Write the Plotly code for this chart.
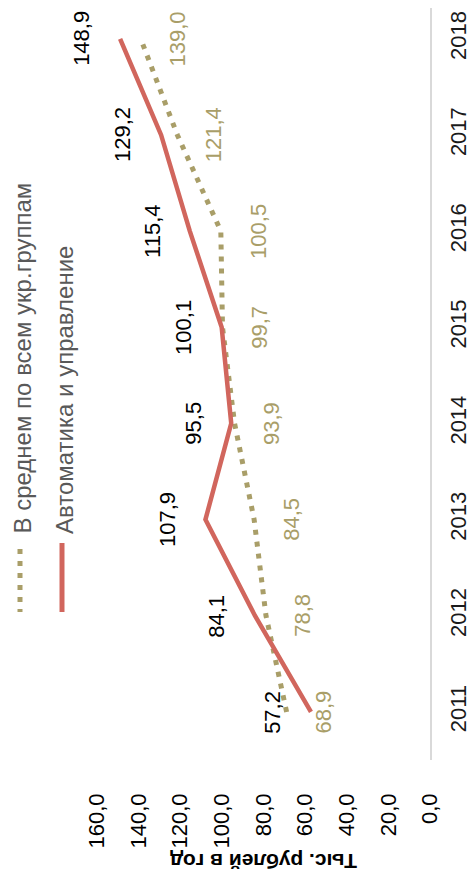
import plotly.graph_objects as go

years = [2011, 2012, 2013, 2014, 2015, 2016, 2017, 2018]
avg_all = [68.9, 78.8, 84.5, 93.9, 99.7, 100.5, 121.4, 139.0]
auto_ctrl = [57.2, 84.1, 107.9, 95.5, 100.1, 115.4, 129.2, 148.9]
value_ticks = [0, 20, 40, 60, 80, 100, 120, 140, 160]
name_avg = "В среднем по всем укр.группам"
name_auto = "Автоматика и управление"
axis_title = "Тыс. рублей в год"

RED = "#D1665D"
OLIVE = "#A99E68"
NARROW = "Liberation Sans Narrow, Arial Narrow, Liberation Sans, Arial, sans-serif"

# page body has an 8px default margin: size the figure to fit the window
OFF = 8
W, H = 476 - OFF, 886 - OFF
# plot area in page pixels: x 97..430, y top..760
L = 97 - OFF
R = W - (430 - OFF)
B = H - (760 - OFF)
T = 0
PW, PH = W - L - R, H - T - B


def px_x(px):
    """page pixel x -> paper"""
    return (px - OFF - L) / PW


def px_y(py):
    """page pixel y -> paper"""
    return (H - B - (py - OFF)) / PH


def fmt(v):
    return f"{v:.1f}".replace(".", ",")


fig = go.Figure()
fig.add_trace(go.Scatter(x=avg_all, y=years, mode="lines", name=name_avg,
                         line=dict(color=OLIVE, width=5, dash="5px,7px"),
                         showlegend=False))
fig.add_trace(go.Scatter(x=auto_ctrl, y=years, mode="lines", name=name_auto,
                         line=dict(color=RED, width=4.5),
                         showlegend=False))

annotations = []
for yv, v in zip(years, auto_ctrl):
    annotations.append(dict(x=v, y=yv, xref="x", yref="y", text=fmt(v), showarrow=False,
                            textangle=-90, xshift=-38, xanchor="center", yanchor="middle",
                            font=dict(family=NARROW, size=22, color="#000000")))
for yv, v in zip(years, avg_all):
    annotations.append(dict(x=v, y=yv, xref="x", yref="y", text=fmt(v), showarrow=False,
                            textangle=-90, xshift=37, xanchor="center", yanchor="middle",
                            font=dict(family=NARROW, size=22, color=OLIVE)))

# legend (rotated)
annotations.append(dict(x=px_x(22), y=px_y(536), xref="paper", yref="paper", text=name_avg,
                        showarrow=False, textangle=-90, xanchor="center", yanchor="bottom",
                        font=dict(family=NARROW, size=24, color="#595959")))
annotations.append(dict(x=px_x(64), y=px_y(536), xref="paper", yref="paper", text=name_auto,
                        showarrow=False, textangle=-90, xanchor="center", yanchor="bottom",
                        font=dict(family=NARROW, size=24, color="#595959")))
# axis title (upside down)
annotations.append(dict(x=0.5, y=px_y(862), xref="paper", yref="paper", text="<b>" + axis_title + "</b>",
                        showarrow=False, textangle=180, xanchor="center", yanchor="middle",
                        font=dict(family="Liberation Sans, Arial, sans-serif", size=21, color="#000000")))

shapes = [
    dict(type="line", xref="paper", yref="paper", x0=px_x(20), x1=px_x(20), y0=px_y(549), y1=px_y(612),
         line=dict(color=OLIVE, width=5, dash="5px,7px")),
    dict(type="line", xref="paper", yref="paper", x0=px_x(62), x1=px_x(62), y0=px_y(543), y1=px_y(612),
         line=dict(color=RED, width=5)),
]

fig.update_layout(
    template="none",
    width=W, height=H,
    margin=dict(l=L, r=R, t=T, b=B, pad=0, autoexpand=False),
    paper_bgcolor="white", plot_bgcolor="white",
    separators=", ",
    annotations=annotations, shapes=shapes,
    showlegend=False,
    xaxis=dict(range=[160, 0], tickvals=value_ticks, tickformat=".1f", tickangle=-90,
               showgrid=False, zeroline=False, showline=False, ticks="", automargin=False,
               ticklabelstandoff=28,
               tickfont=dict(family=NARROW, size=22, color="#000000")),
    yaxis=dict(range=[2010.5, 2018.32], tickvals=years, ticktext=[str(y) for y in years],
               side="right", tickangle=-90, showgrid=False, zeroline=False, automargin=False,
               showline=True, linecolor="#D9D9D9", linewidth=2, ticks="",
               ticklabelstandoff=8, ticklabeloverflow="allow",
               tickfont=dict(family=NARROW, size=22, color="#1a1a1a")),
)

fig.write_html("out.html")
